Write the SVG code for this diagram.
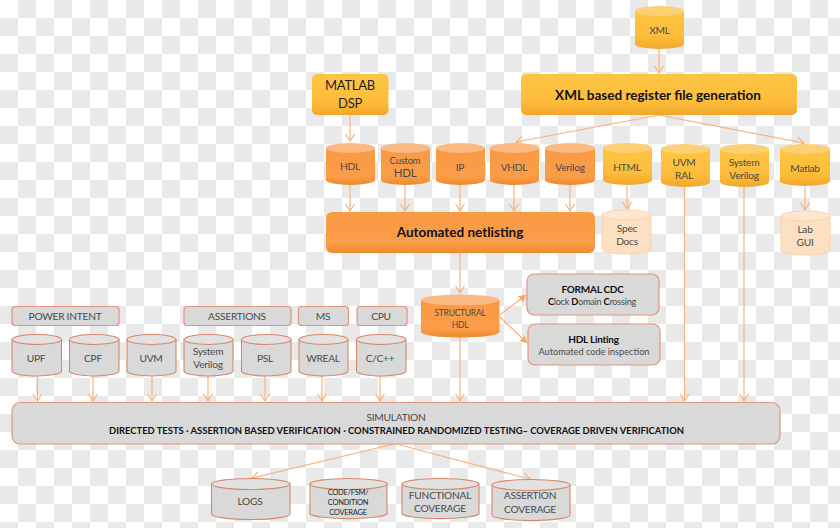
<svg xmlns="http://www.w3.org/2000/svg" xmlns:xlink="http://www.w3.org/1999/xlink" width="840" height="528" viewBox="0 0 840 528">
<style>
text{font-family:Lato,"Open Sans","Liberation Sans",sans-serif;text-anchor:middle;fill:#4a4a4a;font-size:10.2px;letter-spacing:-.25px}
.d{fill:#1e1e1e}
.b{fill:#111;font-weight:700}
.c{fill:none;stroke:#f9b27a;stroke-width:1.2}
.o .s{fill:url(#go)}.o .t{fill:#fbb984}
.y .s{fill:url(#gy)}.y .t{fill:#fdd075}
.p .s{fill:#fde0c2;stroke:#fbd3a8}.p .t{fill:#fde7d1;stroke:#fbd3a8}
.g .s,.g .t{fill:#d9d9d9;stroke:#d9876a;stroke-width:1.1}.g .t{fill:#e2e2e2}
.gb{fill:#d9d9d9;stroke:#e0957c;stroke-width:1.2}
</style>
<defs>
<pattern id="chk" width="36" height="36" patternUnits="userSpaceOnUse"><rect width="36" height="36" fill="#fff"/><rect x="18" width="18" height="18" fill="#e9e9e9"/><rect y="18" width="18" height="18" fill="#e9e9e9"/></pattern>
<linearGradient id="go" x1="0" y1="0" x2="0" y2="1"><stop offset="0" stop-color="#f99a45"/><stop offset=".75" stop-color="#fb9d48"/><stop offset="1" stop-color="#ee8a2e"/></linearGradient>
<linearGradient id="gy" x1="0" y1="0" x2="0" y2="1"><stop offset="0" stop-color="#fdc544"/><stop offset=".65" stop-color="#febd3a"/><stop offset="1" stop-color="#f0a82c"/></linearGradient>
<marker id="a" markerUnits="userSpaceOnUse" markerWidth="12" markerHeight="12" refX="8" refY="5" orient="auto"><path d="M1 .5 8 5 1 9.500" fill="none" stroke="#f9b27a" stroke-width="1.200"/></marker>
<marker id="f" markerUnits="userSpaceOnUse" markerWidth="10" markerHeight="10" refX="7" refY="4" orient="auto"><path d="M0 0 7 4 0 8z" fill="#f9a860"/></marker>
</defs>
<rect width="840" height="528" fill="url(#chk)"/>
<g id="connectors">
<path class="c" marker-end="url(#a)" d="M350 115V141"/>
<path class="c" marker-end="url(#a)" d="M659 49V73"/>
<path class="c" marker-end="url(#a)" d="M659 115 516 142"/>
<path class="c" marker-end="url(#a)" d="M659 115 804 143"/>
<path class="c" marker-end="url(#a)" d="M350 185V211"/>
<path class="c" marker-end="url(#a)" d="M405 185V211"/>
<path class="c" marker-end="url(#a)" d="M460 185V211"/>
<path class="c" marker-end="url(#a)" d="M514 185V211"/>
<path class="c" marker-end="url(#a)" d="M570 185V211"/>
<path class="c" marker-end="url(#a)" d="M627 186V209"/>
<path class="c" marker-end="url(#a)" d="M805 187V210"/>
<path class="c" marker-end="url(#a)" d="M684.500 187V401"/>
<path class="c" marker-end="url(#a)" d="M744 187V401"/>
<path class="c" marker-end="url(#a)" d="M460 253V293"/>
<path class="c" marker-end="url(#a)" d="M460 337V401"/>
<path class="c" marker-end="url(#f)" d="M500 315 526 295"/>
<path class="c" marker-end="url(#f)" d="M500 317 527 343"/>
<path class="c" marker-end="url(#a)" d="M37.500 376V401"/>
<path class="c" marker-end="url(#a)" d="M93 376V401"/>
<path class="c" marker-end="url(#a)" d="M152 376V401"/>
<path class="c" marker-end="url(#a)" d="M208 376V401"/>
<path class="c" marker-end="url(#a)" d="M265 376V401"/>
<path class="c" marker-end="url(#a)" d="M322 376V401"/>
<path class="c" marker-end="url(#a)" d="M380 376V401"/>
<path class="c" marker-end="url(#a)" d="M394 444 252 478"/>
<path class="c" marker-end="url(#a)" d="M396 444 530 479"/>
</g>
<g id="xml" class="y"><path class="s" d="M635 11V44A24.500 5 0 0 0 684 44V11z"/><ellipse class="t" cx="659.500" cy="11" rx="24.500" ry="5"/><text x="659.500" y="34">XML</text></g>
<g id="matlab-dsp"><rect x="312" y="74" width="76.500" height="41" rx="5" fill="url(#gy)"/><text class="d" x="350" y="90" style="font-size:13px">MATLAB</text><text class="d" x="350" y="108" style="font-size:13px">DSP</text></g>
<g id="xml-reg"><rect x="521" y="74" width="276" height="41" rx="5" fill="url(#gy)"/><text class="b" x="658" y="100" style="font-size:13.500px;letter-spacing:0">XML based register file generation</text></g>
<g id="hdl" class="o"><path class="s" d="M326 148V180A24.500 5 0 0 0 375 180V148z"/><ellipse class="t" cx="350.500" cy="148" rx="24.500" ry="5"/><text x="350" y="170">HDL</text></g>
<g id="custom-hdl" class="o"><path class="s" d="M381 148V180A24.500 5 0 0 0 430 180V148z"/><ellipse class="t" cx="405.500" cy="148" rx="24.500" ry="5"/><text x="405" y="164" style="font-size:9.500px">Custom</text><text x="405" y="177" style="font-size:11.500px">HDL</text></g>
<g id="ip" class="o"><path class="s" d="M436 148V180A24.500 5 0 0 0 485 180V148z"/><ellipse class="t" cx="460.500" cy="148" rx="24.500" ry="5"/><text x="460" y="171">IP</text></g>
<g id="vhdl" class="o"><path class="s" d="M490 148V180A24.500 5 0 0 0 539 180V148z"/><ellipse class="t" cx="514.500" cy="148" rx="24.500" ry="5"/><text x="514" y="171">VHDL</text></g>
<g id="verilog" class="o"><path class="s" d="M545 148V180A25 5 0 0 0 595 180V148z"/><ellipse class="t" cx="570" cy="148" rx="25" ry="5"/><text x="570" y="171">Verilog</text></g>
<g id="html" class="y"><path class="s" d="M603 148V180A24.500 5 0 0 0 652 180V148z"/><ellipse class="t" cx="627.500" cy="148" rx="24.500" ry="5"/><text x="627" y="171">HTML</text></g>
<g id="uvm-ral" class="y"><path class="s" d="M661 149V182A24.500 5 0 0 0 710 182V149z"/><ellipse class="t" cx="685.500" cy="149" rx="24.500" ry="5"/><text x="684" y="166">UVM</text><text x="684" y="179">RAL</text></g>
<g id="system-verilog-top" class="y"><path class="s" d="M720 149V182A24.500 5 0 0 0 769 182V149z"/><ellipse class="t" cx="744.500" cy="149" rx="24.500" ry="5"/><text x="744" y="166">System</text><text x="744" y="179">Verilog</text></g>
<g id="matlab" class="y"><path class="s" d="M780 149V181A25 5 0 0 0 830 181V149z"/><ellipse class="t" cx="805" cy="149" rx="25" ry="5"/><text x="805" y="172">Matlab</text></g>
<g id="netlisting"><rect x="326" y="212" width="269" height="41" rx="6" fill="url(#go)"/><text class="b" x="460" y="237" style="font-size:13.500px;letter-spacing:0">Automated netlisting</text></g>
<g id="spec-docs" class="p"><path class="s" d="M602 215V249A24.500 5 0 0 0 651 249V215z"/><ellipse class="t" cx="626.500" cy="215" rx="24.500" ry="5"/><text x="627" y="232">Spec</text><text x="627" y="245">Docs</text></g>
<g id="lab-gui" class="p"><path class="s" d="M781 216V250A24.500 5 0 0 0 830 250V216z"/><ellipse class="t" cx="805.500" cy="216" rx="24.500" ry="5"/><text x="805" y="233">Lab</text><text x="805" y="246">GUI</text></g>
<g id="structural-hdl" class="o"><path class="s" d="M421 300V332A39.250 5.500 0 0 0 499.500 332V300z"/><ellipse class="t" cx="460.250" cy="300" rx="39.250" ry="5.500"/><text x="460" y="316" style="font-size:8.500px">STRUCTURAL</text><text x="460" y="328" style="font-size:8.500px">HDL</text></g>
<g id="formal-cdc"><rect class="gb" x="527" y="274" width="132" height="41" rx="7"/><text class="b" x="592.500" y="293" style="font-size:10px">FORMAL CDC</text><text x="592" y="305" style="font-size:9.200px"><tspan class="b">C</tspan>lock <tspan class="b">D</tspan>omain <tspan class="b">C</tspan>rossing</text></g>
<g id="hdl-linting"><rect class="gb" x="528" y="324" width="132" height="41" rx="7"/><text class="b" x="593.500" y="343" style="font-size:10px">HDL Linting</text><text x="594" y="355" style="font-size:9.200px;letter-spacing:0">Automated code inspection</text></g>
<g id="power-intent"><rect class="gb" x="12" y="306.500" width="107" height="19" rx="3"/><text x="65" y="320">POWER INTENT</text></g>
<g id="assertions"><rect class="gb" x="184" y="306.500" width="107" height="19" rx="3"/><text x="237" y="320">ASSERTIONS</text></g>
<g id="ms"><rect class="gb" x="298.500" y="306.500" width="50" height="19" rx="3"/><text x="323" y="320">MS</text></g>
<g id="cpu"><rect class="gb" x="357" y="306.500" width="50" height="19" rx="3"/><text x="381" y="320">CPU</text></g>
<g id="upf" class="g"><path class="s" d="M12 339.500V371A24.500 5 0 0 0 61.500 371V339.500z"/><ellipse class="t" cx="36.750" cy="339.500" rx="24.750" ry="5"/><text x="36" y="362">UPF</text></g>
<g id="cpf" class="g"><path class="s" d="M69.500 339.500V371A24.500 5 0 0 0 119 371V339.500z"/><ellipse class="t" cx="94.250" cy="339.500" rx="24.750" ry="5"/><text x="93" y="362">CPF</text></g>
<g id="uvm" class="g"><path class="s" d="M127 339.500V371A24.500 5 0 0 0 176 371V339.500z"/><ellipse class="t" cx="151.500" cy="339.500" rx="24.500" ry="5"/><text x="151" y="362">UVM</text></g>
<g id="system-verilog" class="g"><path class="s" d="M184 339.500V371A24.500 5 0 0 0 233 371V339.500z"/><ellipse class="t" cx="208.500" cy="339.500" rx="24.500" ry="5"/><text x="208" y="355">System</text><text x="208" y="368">Verilog</text></g>
<g id="psl" class="g"><path class="s" d="M241.500 339.500V371A24.500 5 0 0 0 291 371V339.500z"/><ellipse class="t" cx="266.250" cy="339.500" rx="24.750" ry="5"/><text x="265" y="362">PSL</text></g>
<g id="wreal" class="g"><path class="s" d="M299 339.500V371A24.500 5 0 0 0 348 371V339.500z"/><ellipse class="t" cx="323.500" cy="339.500" rx="24.500" ry="5"/><text x="323" y="362">WREAL</text></g>
<g id="cpp" class="g"><path class="s" d="M356.500 339.500V371A24.500 5 0 0 0 406 371V339.500z"/><ellipse class="t" cx="381.250" cy="339.500" rx="24.750" ry="5"/><text x="380" y="362">C/C++</text></g>
<g id="simulation"><rect class="gb" x="12" y="402.500" width="768" height="41.500" rx="8"/><text x="396" y="421">SIMULATION</text><text class="b" x="396.500" y="434" textLength="575" lengthAdjust="spacingAndGlyphs" style="font-size:10.200px;letter-spacing:0">DIRECTED TESTS · ASSERTION BASED VERIFICATION · CONSTRAINED RANDOMIZED TESTING– COVERAGE DRIVEN VERIFICATION</text></g>
<g id="logs" class="g"><path class="s" d="M211.500 484V514A39 5.500 0 0 0 290 514V484z"/><ellipse class="t" cx="250.750" cy="484" rx="39.250" ry="5.500"/><text x="250" y="505">LOGS</text></g>
<g id="code-coverage" class="g"><path class="s" d="M310 484V514A39 5.500 0 0 0 387 514V484z"/><ellipse class="t" cx="348.500" cy="484" rx="38.500" ry="5.500"/><text class="d" x="348" y="495" style="font-size:7.500px">CODE/FSM/</text><text class="d" x="348" y="505" style="font-size:7.500px">CONDITION</text><text class="d" x="348" y="515" style="font-size:7.500px">COVERAGE</text></g>
<g id="functional-coverage" class="g"><path class="s" d="M402 484V514A39 5.500 0 0 0 479 514V484z"/><ellipse class="t" cx="440.500" cy="484" rx="38.500" ry="5.500"/><text x="440" y="499">FUNCTIONAL</text><text x="440" y="512">COVERAGE</text></g>
<g id="assertion-coverage" class="g"><path class="s" d="M492 485V515A39 5.500 0 0 0 570 515V485z"/><ellipse class="t" cx="531" cy="485" rx="39" ry="5.500"/><text x="530" y="499">ASSERTION</text><text x="530" y="513">COVERAGE</text></g>
</svg>
